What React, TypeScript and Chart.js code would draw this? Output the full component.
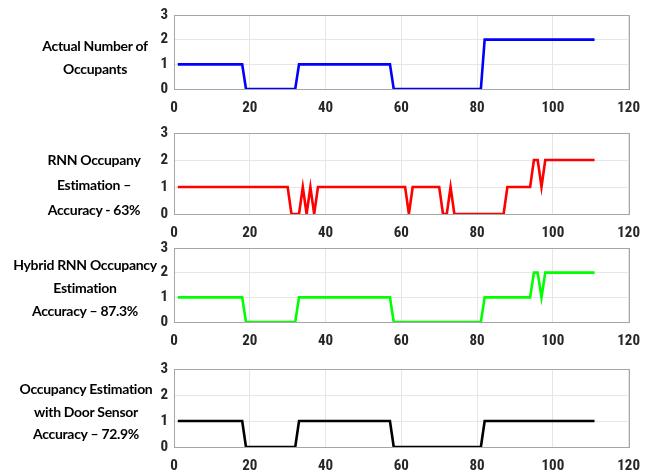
import React, { useEffect, useRef } from "react";
import { Chart, registerables } from "chart.js";
Chart.register(...registerables);

// ---- data (vertices of each piecewise-linear trace) ----
const actualX = [1, 18, 19, 32, 33, 57, 58, 81, 82, 111];
const actualY = [1, 1, 0, 0, 1, 1, 0, 0, 2, 2];

const rnnX = [1, 30, 31, 33, 34, 35, 36, 37, 38, 61, 62, 63, 70, 71, 72, 73, 74, 87, 88, 94, 95, 96, 97, 98, 111];
const rnnY = [1, 1, 0, 0, 1, 0, 1, 0, 1, 1, 0, 1, 1, 0, 0, 1, 0, 0, 1, 1, 2, 2, 1, 2, 2];

const hybridX = [1, 18, 19, 32, 33, 57, 58, 81, 82, 94, 95, 96, 97, 98, 111];
const hybridY = [1, 1, 0, 0, 1, 1, 0, 0, 1, 1, 2, 2, 1, 2, 2];

const doorX = [1, 18, 19, 32, 33, 57, 58, 81, 82, 111];
const doorY = [1, 1, 0, 0, 1, 1, 0, 0, 1, 1];

const panelLabels = [
  ["Actual Number of", "Occupants"],
  ["RNN Occupany", "Estimation \u2013", "Accuracy - 63%"],
  ["Hybrid RNN Occupancy", "Estimation", "Accuracy \u2013 87.3%"],
  ["Occupancy Estimation", "with Door Sensor", "Accuracy \u2013 72.9%"],
];

const X_MIN = 0, X_MAX = 120, X_STEP = 20;
const Y_MIN = 0, Y_MAX = 3, Y_STEP = 1;

// ---- layout / style ----
const panels = [
  { xs: actualX, ys: actualY, color: "#0000ff", top: 14, bottom: 89, labelTop: 34, lineH: 23, cx: 95 },
  { xs: rnnX, ys: rnnY, color: "#ff0000", top: 132, bottom: 214, labelTop: 147, lineH: 25, cx: 94 },
  { xs: hybridX, ys: hybridY, color: "#00ff00", top: 247, bottom: 322, labelTop: 253, lineH: 23, cx: 85 },
  { xs: doorX, ys: doorY, color: "#000000", top: 368, bottom: 447, labelTop: 378, lineH: 22.5, cx: 86 },
];

const TICK_FONT = { family: "'Liberation Sans Narrow', 'Arial Narrow', 'Roboto Condensed', sans-serif", size: 15, weight: "bold" as const };

const boxPlugin = {
  id: "box",
  afterDraw(chart: any) {
    const { ctx, chartArea: a } = chart;
    ctx.save();
    ctx.strokeStyle = "#a6a6a6";
    ctx.lineWidth = 1;
    ctx.strokeRect(Math.round(a.left) + 0.5, Math.round(a.top) + 0.5, Math.round(a.right - a.left), Math.round(a.bottom - a.top));
    ctx.restore();
  },
};

function Panel({ p }: { p: (typeof panels)[number] }) {
  const ref = useRef<HTMLCanvasElement>(null);
  const canvasTop = p.top - 14;
  const canvasH = p.bottom - p.top + 14 + 29;
  useEffect(() => {
    if (!ref.current) return;
    const data = p.xs.map((x, i) => ({ x, y: p.ys[i] }));
    const chart = new Chart(ref.current, {
      type: "line",
      data: {
        datasets: [
          {
            data,
            borderColor: p.color,
            borderWidth: 2.6,
            pointRadius: 0,
            tension: 0,
            fill: false,
          },
        ],
      },
      options: {
        animation: false,
        responsive: false,
        maintainAspectRatio: false,
        layout: { padding: { top: 14, right: 21, bottom: 5, left: 0 } },
        plugins: { legend: { display: false }, tooltip: { enabled: false } },
        scales: {
          x: {
            type: "linear",
            min: X_MIN,
            max: X_MAX,
            ticks: { stepSize: X_STEP, font: TICK_FONT, color: "#262626", padding: 10, maxRotation: 0 },
            grid: { color: "#e6e6e6", drawTicks: false },
            border: { display: false },
            afterFit: (s: any) => { s.height = 24; },
          },
          y: {
            type: "linear",
            min: Y_MIN,
            max: Y_MAX,
            ticks: { stepSize: Y_STEP, font: TICK_FONT, color: "#262626", padding: 6 },
            grid: { color: "#e6e6e6", drawTicks: false },
            border: { display: false },
            afterFit: (s: any) => { s.width = 24; },
          },
        },
      },
      plugins: [boxPlugin],
    });
    return () => chart.destroy();
  }, []);
  return (
    <canvas
      ref={ref}
      width={500}
      height={canvasH}
      style={{ position: "absolute", left: 150, top: canvasTop, width: 500, height: canvasH }}
    />
  );
}

export default function App() {
  return (
    <div style={{ position: "absolute", left: 0, top: 0, width: 650, height: 474, background: "#fff", overflow: "hidden" }}>
      {panels.map((p, i) => (
        <Panel key={i} p={p} />
      ))}
      {panels.map((p, i) => (
        <div
          key={"l" + i}
          style={{
            position: "absolute",
            left: p.cx - 90,
            width: 180,
            top: p.labelTop,
            textAlign: "center",
            fontFamily: "Lato, 'Open Sans', sans-serif",
            fontWeight: 700,
            fontSize: 14,
            lineHeight: p.lineH + "px",
            color: "#000",
            letterSpacing: -0.3,
          }}
        >
          {panelLabels[i].map((t, j) => (
            <div key={j}>{t}</div>
          ))}
        </div>
      ))}
    </div>
  );
}
